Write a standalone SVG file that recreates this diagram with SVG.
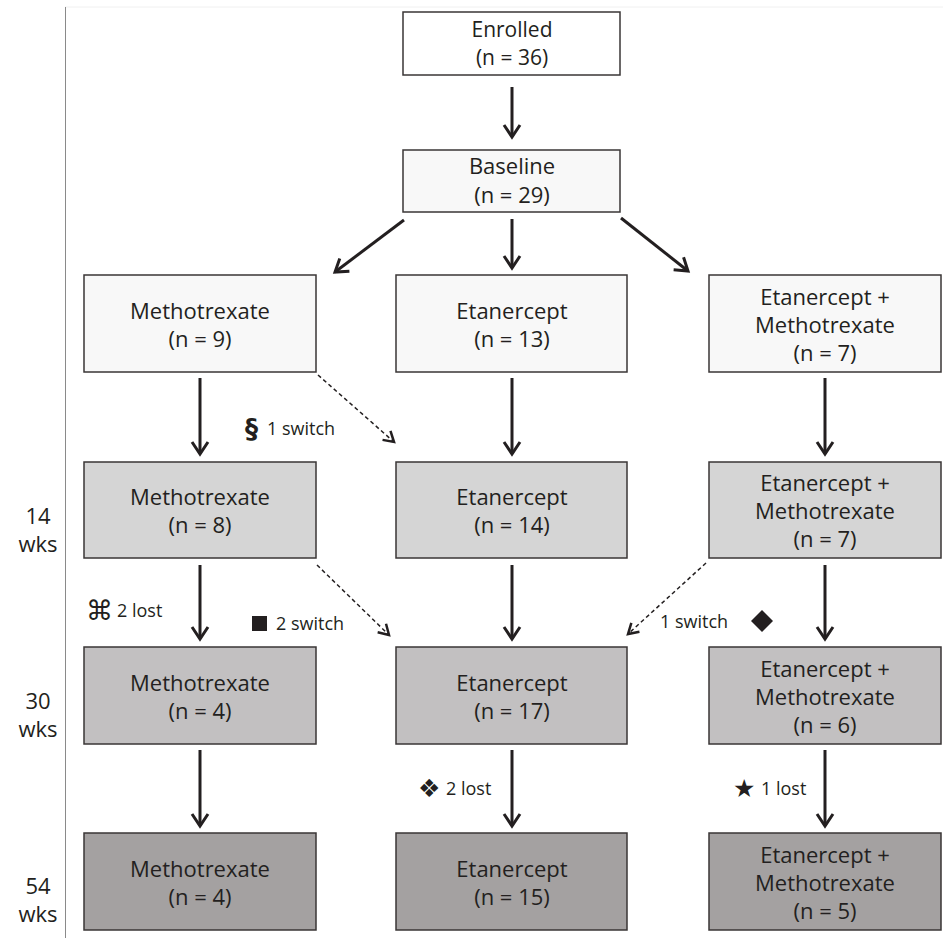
<svg xmlns="http://www.w3.org/2000/svg" width="943" height="938" viewBox="0 0 943 938">
<style>
.box{stroke:#3a3636;stroke-width:1.5}
.w{fill:#ffffff}
.r1{fill:#f8f8f8}
.r2{fill:#d5d5d5}
.r3{fill:#c2c0c1}
.r4{fill:#a4a1a1}
text{font-family:"Open Sans","Liberation Sans",sans-serif;fill:#231f20}
.t{font-size:22px;text-anchor:middle}
.l{font-size:18px}
.sym{font-family:"DejaVu Sans","Liberation Sans",sans-serif}
.sa{stroke:#231f20;stroke-width:3;fill:none}
.da{stroke:#231f20;stroke-width:1.5;stroke-dasharray:4 3;fill:none}
</style>
<defs>
<marker id="ah" markerWidth="18" markerHeight="20" refX="14" refY="10" orient="auto" markerUnits="userSpaceOnUse">
<path d="M2,2 L14,10 L2,18" fill="none" stroke="#231f20" stroke-width="3"/>
</marker>
<marker id="dh" markerWidth="16" markerHeight="16" refX="12" refY="8" orient="auto" markerUnits="userSpaceOnUse">
<path d="M2,2 L12,8 L2,14" fill="none" stroke="#231f20" stroke-width="2.5"/>
</marker>
</defs>
<rect width="943" height="938" fill="#ffffff"/>
<line x1="65" y1="7" x2="943" y2="7" stroke="#f0f0f0" stroke-width="1"/>
<line x1="65.5" y1="7" x2="65.5" y2="938" stroke="#8a8a8a" stroke-width="1"/>

<g id="timeline" class="t">
<text x="38" y="524">14</text><text x="38" y="552">wks</text>
<text x="38" y="709">30</text><text x="38" y="737">wks</text>
<text x="38" y="894">54</text><text x="38" y="922">wks</text>
</g>

<g id="enrolled"><rect class="box w" x="403" y="12" width="217" height="63"/>
<text class="t" x="512" y="37" style="font-size:21px">Enrolled</text><text class="t" x="512" y="65" style="font-size:21px">(n = 36)</text></g>
<g id="baseline"><rect class="box r1" x="403" y="150" width="217" height="62"/>
<text class="t" x="512" y="174">Baseline</text><text class="t" x="512" y="203">(n = 29)</text></g>

<g id="mtx1"><rect class="box r1" x="84" y="275" width="232" height="97"/>
<text class="t" x="200" y="319">Methotrexate</text><text class="t" x="200" y="347">(n = 9)</text></g>
<g id="eta1"><rect class="box r1" x="396" y="275" width="231" height="97"/>
<text class="t" x="512" y="319">Etanercept</text><text class="t" x="512" y="347">(n = 13)</text></g>
<g id="em1"><rect class="box r1" x="709" y="275" width="232" height="97"/>
<text class="t" x="825" y="305">Etanercept +</text><text class="t" x="825" y="333">Methotrexate</text><text class="t" x="825" y="361">(n = 7)</text></g>

<g id="mtx2"><rect class="box r2" x="84" y="462" width="232" height="96"/>
<text class="t" x="200" y="505">Methotrexate</text><text class="t" x="200" y="533">(n = 8)</text></g>
<g id="eta2"><rect class="box r2" x="396" y="462" width="231" height="96"/>
<text class="t" x="512" y="505">Etanercept</text><text class="t" x="512" y="533">(n = 14)</text></g>
<g id="em2"><rect class="box r2" x="709" y="462" width="232" height="96"/>
<text class="t" x="825" y="491">Etanercept +</text><text class="t" x="825" y="519">Methotrexate</text><text class="t" x="825" y="547">(n = 7)</text></g>

<g id="mtx3"><rect class="box r3" x="84" y="647" width="232" height="97"/>
<text class="t" x="200" y="691">Methotrexate</text><text class="t" x="200" y="719">(n = 4)</text></g>
<g id="eta3"><rect class="box r3" x="396" y="647" width="231" height="97"/>
<text class="t" x="512" y="691">Etanercept</text><text class="t" x="512" y="719">(n = 17)</text></g>
<g id="em3"><rect class="box r3" x="709" y="647" width="232" height="97"/>
<text class="t" x="825" y="677">Etanercept +</text><text class="t" x="825" y="705">Methotrexate</text><text class="t" x="825" y="733">(n = 6)</text></g>

<g id="mtx4"><rect class="box r4" x="84" y="833" width="232" height="97"/>
<text class="t" x="200" y="877">Methotrexate</text><text class="t" x="200" y="905">(n = 4)</text></g>
<g id="eta4"><rect class="box r4" x="396" y="833" width="231" height="97"/>
<text class="t" x="512" y="877">Etanercept</text><text class="t" x="512" y="905">(n = 15)</text></g>
<g id="em4"><rect class="box r4" x="709" y="833" width="232" height="97"/>
<text class="t" x="825" y="863">Etanercept +</text><text class="t" x="825" y="891">Methotrexate</text><text class="t" x="825" y="919">(n = 5)</text></g>

<g id="connectors">
<line class="sa" x1="512" y1="87" x2="512" y2="137" marker-end="url(#ah)"/>
<line class="sa" x1="512" y1="219" x2="512" y2="268" marker-end="url(#ah)"/>
<line class="sa" x1="404" y1="220" x2="335" y2="272" marker-end="url(#ah)"/>
<line class="sa" x1="621" y1="218" x2="688" y2="271" marker-end="url(#ah)"/>
<line class="sa" x1="200" y1="378" x2="200" y2="454" marker-end="url(#ah)"/>
<line class="sa" x1="512" y1="378" x2="512" y2="454" marker-end="url(#ah)"/>
<line class="sa" x1="825" y1="378" x2="825" y2="454" marker-end="url(#ah)"/>
<line class="sa" x1="200" y1="565" x2="200" y2="639" marker-end="url(#ah)"/>
<line class="sa" x1="512" y1="565" x2="512" y2="639" marker-end="url(#ah)"/>
<line class="sa" x1="825" y1="565" x2="825" y2="639" marker-end="url(#ah)"/>
<line class="sa" x1="200" y1="750" x2="200" y2="826" marker-end="url(#ah)"/>
<line class="sa" x1="512" y1="750" x2="512" y2="826" marker-end="url(#ah)"/>
<line class="sa" x1="825" y1="750" x2="825" y2="826" marker-end="url(#ah)"/>
<line class="da" x1="318" y1="375" x2="394" y2="442" marker-end="url(#dh)"/>
<line class="da" x1="317" y1="565" x2="389" y2="635" marker-end="url(#dh)"/>
<line class="da" x1="706" y1="563" x2="628" y2="634" marker-end="url(#dh)"/>
</g>

<g id="labels">
<text class="sym" x="245" y="438" style="font-size:26px;font-weight:bold">§</text>
<text class="l" x="267" y="435">1 switch</text>
<text class="sym" x="86" y="620" style="font-size:27px">⌘</text>
<text class="l" x="117" y="617">2 lost</text>
<rect x="252" y="616" width="15" height="15" fill="#231f20"/>
<text class="l" x="276" y="630">2 switch</text>
<text class="l" x="660" y="628">1 switch</text>
<path d="M762,610 L773,621 L762,632 L751,621 Z" fill="#231f20"/>
<text class="sym" x="418" y="797" style="font-size:25px">❖</text>
<text class="l" x="446" y="795">2 lost</text>
<text class="sym" x="733" y="797" style="font-size:25px">★</text>
<text class="l" x="761" y="795">1 lost</text>
</g>
</svg>
